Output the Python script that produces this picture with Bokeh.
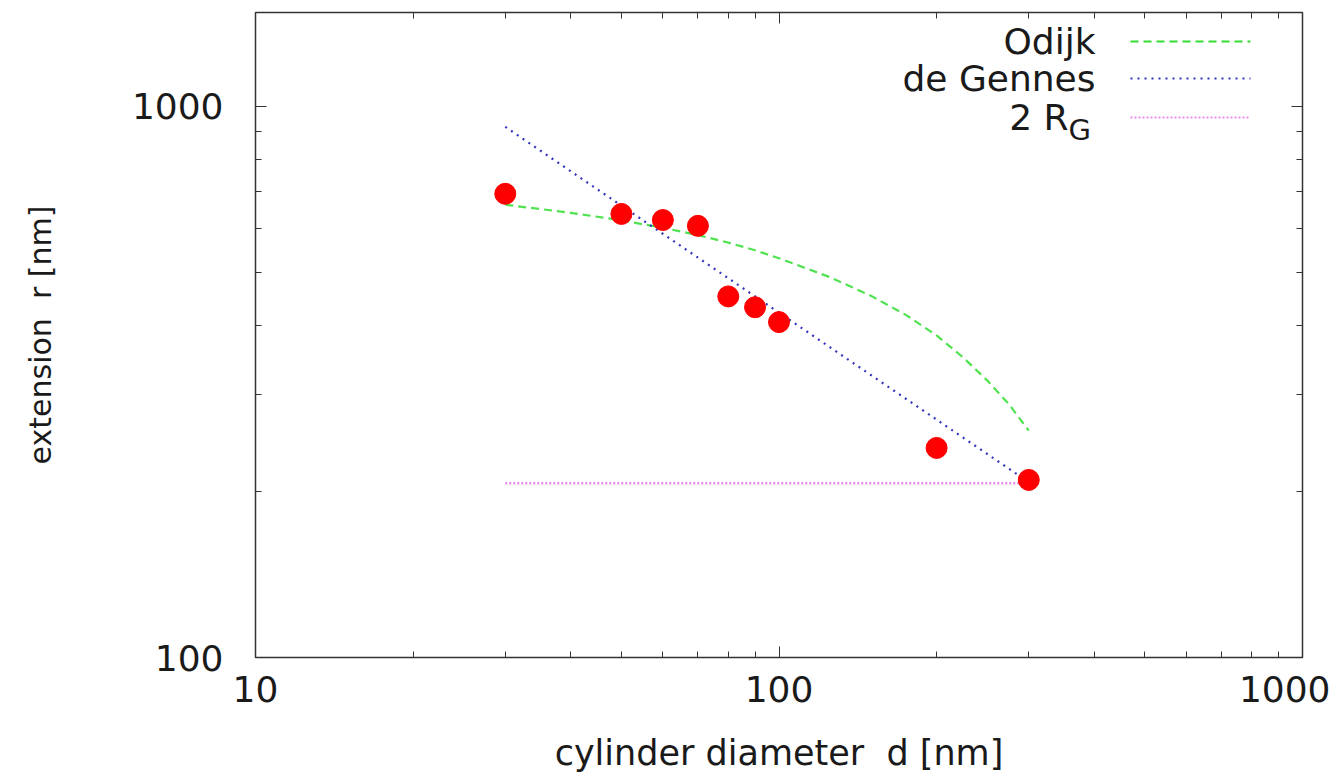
from bokeh.plotting import figure
from bokeh.models import LogAxis, Label, Arrow, Range1d, FixedTicker, CustomLabelingPolicy, NumeralTickFormatter
from bokeh.embed import file_html
from bokeh.resources import INLINE

# data
meas_d = [30, 50, 60, 70, 80, 90, 100, 200, 300]
meas_r = [694, 638, 622, 607, 452, 432, 406, 240, 210]

odijk_d = [30, 40, 50, 60, 70, 80, 90, 100, 125, 150, 175, 200, 225, 250, 275, 300]
odijk_r = [663, 641, 621, 602, 584, 566, 548, 530, 490, 453, 418, 384, 350, 318, 288, 258]

degennes_d = [30, 300]
degennes_r = [918, 208]

rg_d = [30, 300]
rg_r = [207, 207]

x_major = [10, 100, 1000]
y_major = [100, 1000]
x_minor = [m * b for b in (10, 100) for m in range(2, 10)]
y_minor = [m * 100 for m in range(2, 10)]

FONT = "DejaVu Sans"
FS = "36px"
TXT = "#1a1a1a"

p = figure(width=1330, height=775, x_axis_type="log", y_axis_type="log",
           x_range=Range1d(10, 1000), y_range=Range1d(100, 1480),
           output_backend="svg", toolbar_location=None,
           min_border_left=255, min_border_right=28, min_border_top=12, min_border_bottom=115)
p.xgrid.visible = False
p.ygrid.visible = False
p.outline_line_color = "#333333"
p.outline_line_width = 1.5
p.background_fill_color = "white"
p.border_fill_color = "white"

no_labels = CustomLabelingPolicy(code="""
const n = indices.size;
for (let i = 0; i < n; i++) { indices.unset(i); }
return indices;
""")

def style_axis(ax, major, minor, labels=True):
    ax.ticker = FixedTicker(ticks=major, minor_ticks=minor)
    ax.formatter = NumeralTickFormatter(format="0")
    ax.major_tick_in = 11
    ax.major_tick_out = 0
    ax.minor_tick_in = 6
    ax.minor_tick_out = 0
    ax.axis_line_color = "#333333"
    ax.major_tick_line_color = "#333333"
    ax.minor_tick_line_color = "#333333"
    ax.major_label_text_font = FONT
    ax.major_label_text_color = TXT
    ax.axis_label_text_font = FONT
    ax.axis_label_text_font_style = "normal"
    ax.axis_label_text_color = TXT
    if labels:
        ax.major_label_text_font_size = FS
    else:
        ax.major_label_text_font_size = "1px"
        ax.major_label_standoff = 0
        ax.major_label_policy = no_labels
        ax.axis_line_color = None

xa = p.xaxis[0]
ya = p.yaxis[0]
style_axis(xa, x_major, x_minor)
style_axis(ya, y_major, y_minor)
xa.major_label_standoff = 18
ya.major_label_standoff = 32
xa.axis_label = "cylinder diameter \u00a0d [nm]"
xa.axis_label_text_font_size = "35px"
xa.axis_label_standoff = 28
ya.axis_label = "extension \u00a0r [nm]"
ya.axis_label_text_font_size = "30px"
ya.axis_label_standoff = 71

top = LogAxis()
style_axis(top, x_major, x_minor, labels=False)
right = LogAxis()
style_axis(right, y_major, y_minor, labels=False)
p.add_layout(top, "above")
p.add_layout(right, "right")

# curves
p.line(odijk_d, odijk_r, line_color="#33dd33", line_width=2.2, line_dash="8 5", line_alpha=0.85)
p.line(degennes_d, degennes_r, line_color="#3333bb", line_width=2.2, line_dash="2 5")
p.line(rg_d, rg_r, line_color="#ee88ee", line_width=2.5, line_dash="2 2")
p.scatter(meas_d, meas_r, size=21, fill_color="#ff0000", line_color="#ff0000")

def lab(x, y, text, align="left", size=FS):
    p.add_layout(Label(x=x, y=y, x_units="screen", y_units="screen", text=text,
                       text_align=align, text_baseline="middle",
                       text_font=FONT, text_font_size=size, text_color=TXT))

# legend (screen units relative to the plot frame)
rows = [("Odijk", 616, "#33dd33", "8 5"), ("de Gennes", 579, "#3333bb", "2 5"), (None, 540, "#ee88ee", "2 2")]
for name, yy, col, dash in rows:
    if name:
        lab(840, yy, name, align="right")
    p.add_layout(Arrow(end=None, x_start=875, y_start=yy, x_end=995, y_end=yy,
                       start_units="screen", end_units="screen",
                       line_color=col, line_width=2.2, line_dash=dash))
lab(813, 540, "2 R", align="right")
lab(813, 528, "G", align="left", size="29px")

open("out.html", "w").write(file_html(p, INLINE))
